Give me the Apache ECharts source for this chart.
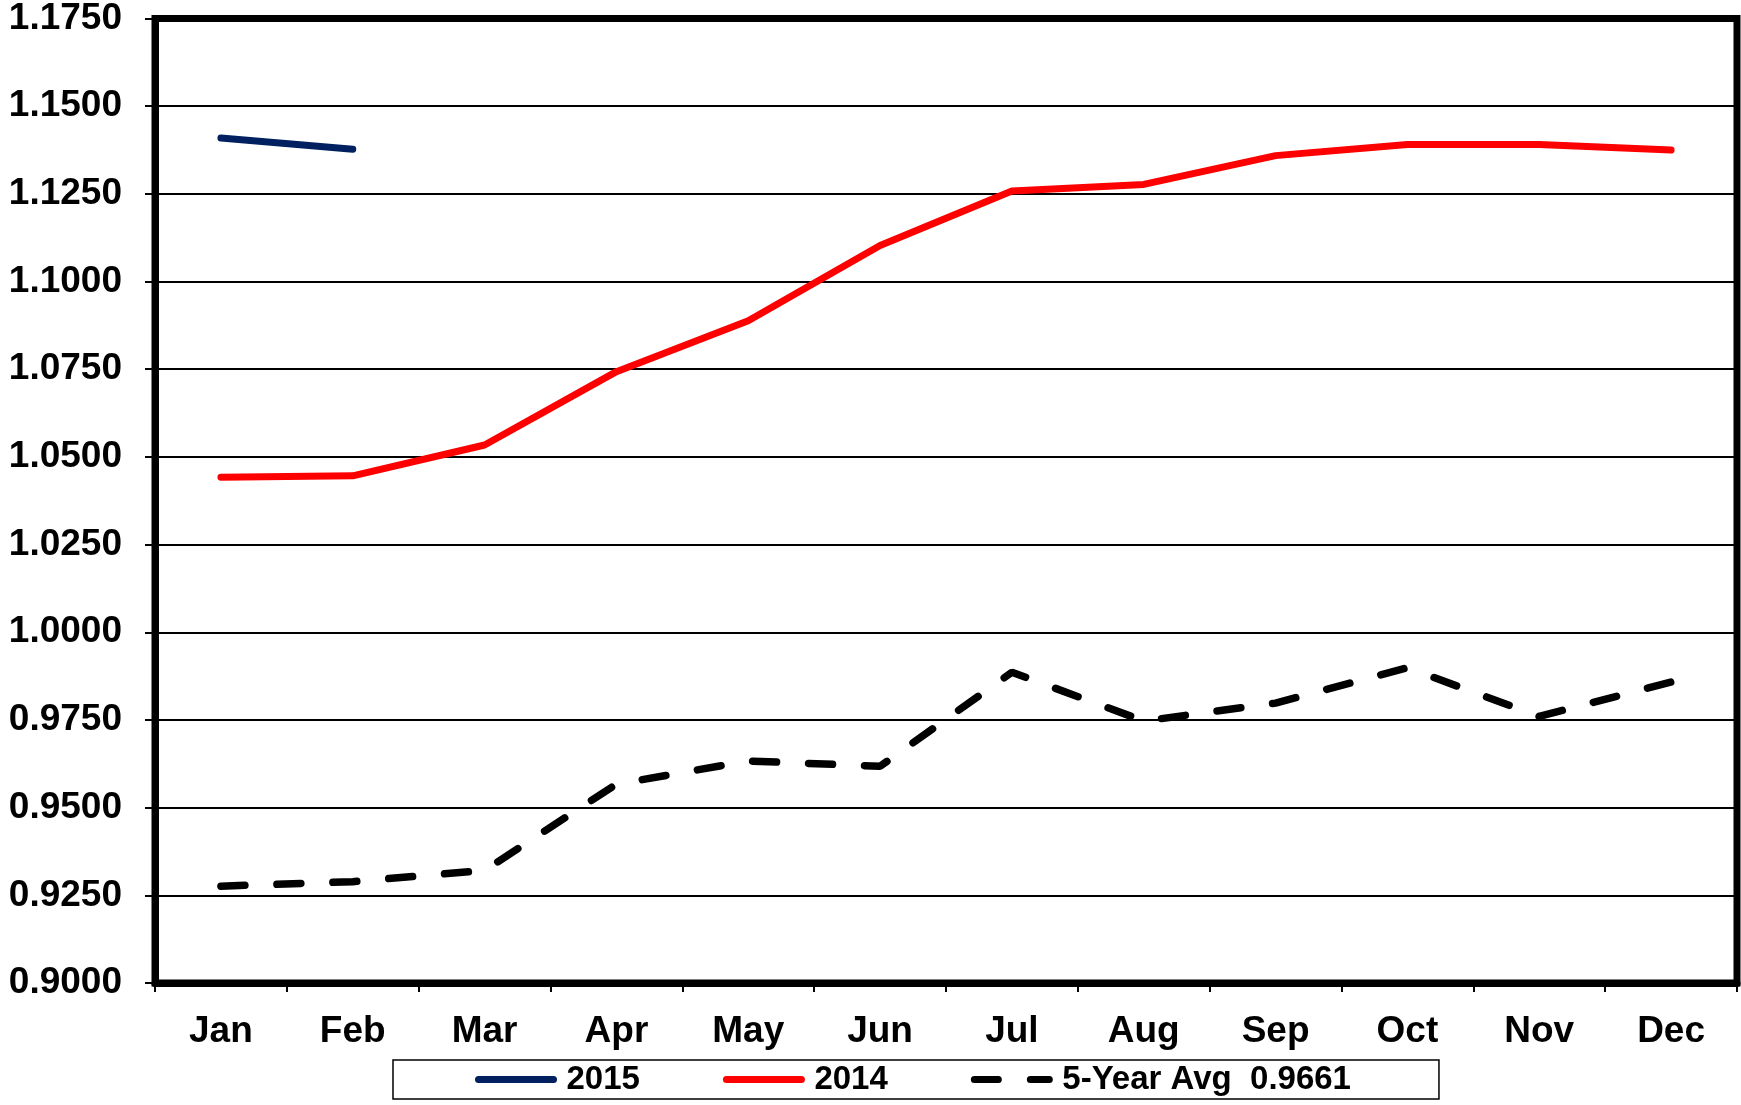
<!DOCTYPE html>
<html>
<head>
<meta charset="utf-8">
<script src="https://cdn.jsdelivr.net/npm/echarts@6/dist/echarts.min.js"></script>
<style>
html,body{margin:0;padding:0;background:#fff;}
#chart{width:1741px;height:1105px;}
</style>
</head>
<body>
<div id="chart"></div>
<script>
const months = ['Jan','Feb','Mar','Apr','May','Jun','Jul','Aug','Sep','Oct','Nov','Dec'];
const s2015 = [1.1409, 1.1377, null, null, null, null, null, null, null, null, null, null];
const s2014 = [1.0442, 1.0446, 1.0534, 1.0743, 1.0888, 1.1103, 1.1258, 1.1277, 1.1359, 1.1391, 1.1391, 1.1375];
const s5yr = [0.9276, 0.9289, 0.9321, 0.9567, 0.9633, 0.9618, 0.9886, 0.9747, 0.9798, 0.9899, 0.9760, 0.9858];
const seriesNames = ['2015', '2014', '5-Year Avg  0.9661'];

const FONT = '"Liberation Sans", Arial, sans-serif';
const chart = echarts.init(document.getElementById('chart'), null, {renderer:'canvas'});
chart.setOption({
  animation:false,
  backgroundColor:'#fff',
  grid:{left:155, right:4, top:17, bottom:122, show:true, borderColor:'#000', borderWidth:7, backgroundColor:'transparent'},
  legend:{
    left:393, top:1060,
    padding:[3, 88, 3, 82],
    itemGap:83,
    itemWidth:75, itemHeight:12,
    borderColor:'#000', borderWidth:1.5,
    backgroundColor:'#fff',
    itemStyle:{opacity:0},
    lineStyle:{width:7, cap:'round'},
    textStyle:{fontFamily:FONT, fontWeight:'bold', fontSize:33, color:'#000', padding:[9,0,0,8]},
    data:seriesNames
  },
  xAxis:{
    type:'category', data:months, boundaryGap:true,
    axisLine:{lineStyle:{color:'#000', width:7}},
    axisTick:{show:true, inside:false, length:9, lineStyle:{color:'#000', width:2}, alignWithLabel:false},
    axisLabel:{fontFamily:FONT, fontWeight:'bold', fontSize:37, color:'#000', margin:30},
    splitLine:{show:false}
  },
  yAxis:{
    type:'value', min:0.9, max:1.175, interval:0.025,
    axisLine:{show:true, lineStyle:{color:'#000', width:7}},
    axisTick:{show:true, inside:false, length:10, lineStyle:{color:'#000', width:2}},
    axisLabel:{fontFamily:FONT, fontWeight:'bold', fontSize:37, color:'#000', margin:33,
      formatter:v=>v.toFixed(4)},
    splitLine:{show:true, lineStyle:{color:'#000', width:2}}
  },
  series:[
    {name:seriesNames[0], type:'line', data:s2015, symbol:'none', connectNulls:false,
      lineStyle:{color:'#002060', width:7, cap:'round'}, itemStyle:{color:'#002060'}},
    {name:seriesNames[1], type:'line', data:s2014, symbol:'none',
      lineStyle:{color:'#ff0000', width:7, cap:'round'}, itemStyle:{color:'#ff0000'}},
    {name:seriesNames[2], type:'line', data:s5yr, symbol:'none',
      lineStyle:{color:'#000', width:7.5, type:[24, 32], cap:'round'}, itemStyle:{color:'#000'}}
  ]
});
</script>
</body>
</html>
